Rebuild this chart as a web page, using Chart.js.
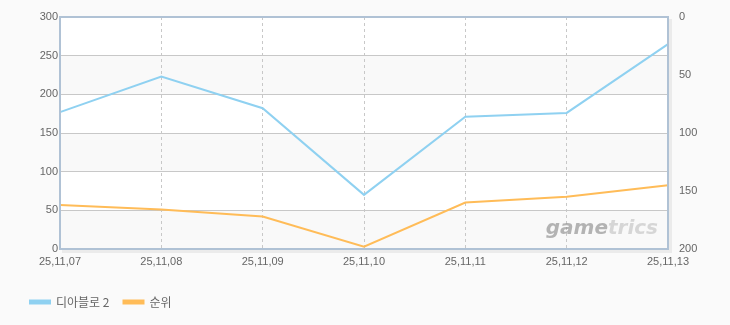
<!DOCTYPE html>
<html>
<head>
<meta charset="utf-8">
<script src="https://cdn.jsdelivr.net/npm/chart.js@4/dist/chart.umd.min.js"></script>
<style>
  html, body { margin: 0; padding: 0; background: #fafafa; }
  #wrap { width: 730px; height: 325px; }
</style>
</head>
<body>
<div id="wrap"><canvas id="lineChart" width="730" height="325"></canvas></div>
<script>
// chart data
var dates = ["25,11,07", "25,11,08", "25,11,09", "25,11,10", "25,11,11", "25,11,12", "25,11,13"];
var gameValues = [177, 223, 182, 70, 171, 176, 265];
var rankValues = [162, 166, 172, 198, 160, 155, 145];
var seriesNames = ["디아블로 2", "순위"];

var FONT = "'Liberation Sans', 'Noto Sans CJK KR', sans-serif";

// alternating bands, frame and watermark inside the plot area
var plotDecor = {
    id: "plotDecor",
    afterLayout: function (chart) {
        // legend sits a little in from the left edge
        chart.legend.left += 16;
    },
    beforeDraw: function (chart) {
        var ctx = chart.ctx, area = chart.chartArea;
        var ys = chart.scales.y;
        ctx.save();
        ctx.fillStyle = "#ffffff";
        ctx.fillRect(area.left, area.top, area.width, area.height);
        ctx.fillStyle = "#f9f9f9";
        var ticks = ys.ticks;
        for (var i = 0; i < ticks.length - 1; i++) {
            var top = ys.getPixelForValue(ticks[i + 1].value);
            var bot = ys.getPixelForValue(ticks[i].value);
            // every other band from the top is grey
            if ((ticks.length - 2 - i) % 2 === 1) {
                ctx.fillRect(area.left, top, area.width, bot - top);
            }
        }
        ctx.restore();
    },
    beforeDatasetsDraw: function (chart) {
        var ctx = chart.ctx, area = chart.chartArea;
        ctx.save();
        ctx.font = "italic bold 20px 'DejaVu Sans', sans-serif";
        ctx.textBaseline = "alphabetic";
        var wGame = ctx.measureText("game").width;
        var wAll = ctx.measureText("gametrics").width;
        var x0 = area.right - 10 - wAll;
        ctx.fillStyle = "rgba(150,150,150,0.7)";
        ctx.fillText("game", x0, area.bottom - 15);
        ctx.fillStyle = "rgba(200,200,200,0.7)";
        ctx.fillText("trics", x0 + wGame, area.bottom - 15);
        ctx.restore();
    },
    afterDraw: function (chart) {
        var ctx = chart.ctx, area = chart.chartArea;
        ctx.save();
        // soft shadow under and right of the frame
        ctx.strokeStyle = "rgba(0,0,0,0.06)";
        ctx.lineWidth = 3;
        ctx.beginPath();
        ctx.moveTo(area.left + 2, area.bottom + 2.5);
        ctx.lineTo(area.right + 2.5, area.bottom + 2.5);
        ctx.lineTo(area.right + 2.5, area.top + 2);
        ctx.stroke();
        ctx.strokeStyle = "#b0c2d5";
        ctx.lineWidth = 2;
        ctx.strokeRect(area.left, area.top, area.width, area.height);
        ctx.restore();
    }
};

var ctx = document.getElementById("lineChart").getContext("2d");

var lineChart = new Chart(ctx, {
    type: "line",
    data: {
        labels: dates,
        datasets: [{
            label: seriesNames[0],
            data: gameValues,
            yAxisID: "y",
            borderColor: "#8fd1f1",
            backgroundColor: "#8fd1f1",
            borderWidth: 2,
            pointRadius: 0,
            tension: 0
        }, {
            label: seriesNames[1],
            data: rankValues,
            yAxisID: "y2",
            borderColor: "#ffbc58",
            backgroundColor: "#ffbc58",
            borderWidth: 2,
            pointRadius: 0,
            tension: 0
        }]
    },
    options: {
        responsive: false,
        animation: false,
        layout: {
            padding: { top: 17, left: 0, right: 0, bottom: 7 }
        },
        scales: {
            x: {
                offset: false,
                grid: {
                    color: "#c8c8c8",
                    drawTicks: false
                },
                border: { display: false, dash: [3, 3] },
                ticks: {
                    color: "#666",
                    font: { family: FONT, size: 11 },
                    padding: 6,
                    maxRotation: 0,
                    autoSkip: false
                },
                afterFit: function (scale) { scale.height = 33; }
            },
            y: {
                position: "left",
                min: 0,
                max: 300,
                grid: { color: "#c8c8c8", drawTicks: false },
                border: { display: false },
                ticks: {
                    stepSize: 50,
                    color: "#666",
                    font: { family: FONT, size: 11 },
                    padding: 2
                },
                afterFit: function (scale) { scale.width = 60; }
            },
            y2: {
                position: "right",
                reverse: true,
                min: 0,
                max: 200,
                grid: { display: false },
                border: { display: false },
                ticks: {
                    stepSize: 50,
                    color: "#666",
                    font: { family: FONT, size: 11 },
                    padding: 3
                },
                afterFit: function (scale) { scale.width = 62; }
            }
        },
        plugins: {
            legend: {
                position: "bottom",
                align: "start",
                labels: {
                    boxWidth: 20,
                    boxHeight: 3,
                    padding: 14,
                    color: "#666",
                    font: { family: "'Noto Sans CJK KR', sans-serif", size: 12 }
                }
            },
            tooltip: { enabled: false }
        }
    },
    plugins: [plotDecor]
});
</script>
</body>
</html>
